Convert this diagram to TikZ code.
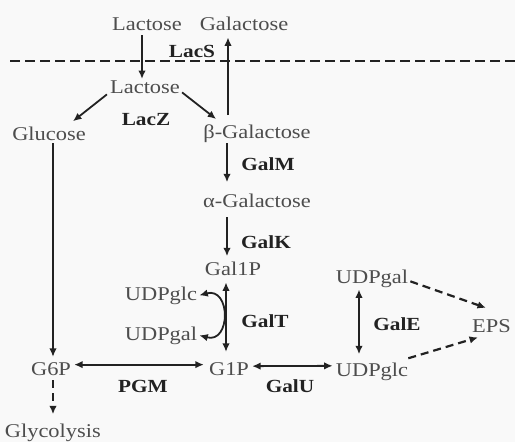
\documentclass[tikz,border=0pt]{standalone}
\usepackage{fontspec}
\setmainfont{Liberation Serif}[FakeStretch=1.15]
\usetikzlibrary{arrows.meta}
\definecolor{txt}{HTML}{4D4D4D}
\definecolor{ink}{HTML}{222222}
\definecolor{bg}{HTML}{F9F9F9}
\begin{document}
\begin{tikzpicture}[x=1pt,y=-1pt,
  met/.style={font=\fontsize{19.5}{22}\selectfont, text=txt, inner sep=1pt, anchor=base},
  enz/.style={font=\fontsize{18.5}{21}\selectfont\bfseries, text=ink, inner sep=1pt, anchor=base},
  tip/.tip={Latex[length=8.5pt,width=7.5pt]},
  rx/.style={draw=ink, line width=1.8pt, -tip},
  rxx/.style={draw=ink, line width=1.8pt, tip-tip},
  dsh/.style={draw=ink, line width=2.2pt, -tip, dash pattern=on 8pt off 5pt}]
\useasboundingbox (0,0) rectangle (515,442);
\fill[bg] (0,0) rectangle (515,442);
% membrane
\coordinate (memL) at (10,61);
\coordinate (memR) at (515,61);
\draw[ink, line width=2.4pt, dash pattern=on 10pt off 5pt] (memL) -- (memR);
% metabolites
\node[met] (lac0) at (147,30) {Lactose};
\node[met] (gal0) at (244,30) {Galactose};
\node[met] (lac1) at (145,93) {Lactose};
\node[met] (glc) at (49,140) {Glucose};
\node[met] (bgal) at (257,138) {β-Galactose};
\node[met] (agal) at (257,207) {α-Galactose};
\node[met] (gal1p) at (233,275) {Gal1P};
\node[met] (udpglcL) at (161,300) {UDPglc};
\node[met] (udpgalL) at (161,340) {UDPgal};
\node[met] (udpgalR) at (372,283) {UDPgal};
\node[met] (udpglcR) at (372,376) {UDPglc};
\node[met, anchor=base west] (eps) at (471,332) {EPS};
\node[met] (g6p) at (51,375) {G6P};
\node[met] (g1p) at (229,375) {G1P};
\node[met, anchor=base east] (glyc) at (102,437) {Glycolysis};
% enzymes
\node[enz] (lacs) at (192,57) {LacS};
\node[enz] (lacz) at (146,125) {LacZ};
\node[enz] (galm) at (268,170) {GalM};
\node[enz] (galk) at (266,248) {GalK};
\node[enz] (galt) at (265,327) {GalT};
\node[enz] (gale) at (397,330) {GalE};
\node[enz] (pgm) at (143,392) {PGM};
\node[enz] (galu) at (290,392) {GalU};
% reactions
\draw[rx] ([xshift=-5pt,yshift=-4pt]lac0.south) -- ([xshift=-3pt]lac1.north);
\draw[rx] ([xshift=-29pt,yshift=8pt]bgal.north) -- ([xshift=-16pt,yshift=-6pt]gal0.south);
\draw[rx] ([xshift=-2pt]lac1.south west) -- ([xshift=-14pt,yshift=4pt]glc.north east);
\draw[rx] ([xshift=1pt,yshift=2pt]lac1.south east) -- ([xshift=14pt,yshift=4pt]bgal.north west);
\draw[rx] ([xshift=-30pt]bgal.south) -- ([xshift=-30pt,yshift=10pt]agal.north);
\draw[rx] ([xshift=-30pt,yshift=-9pt]agal.south) -- ([xshift=-6pt,yshift=4pt]gal1p.north);
\draw[rxx] ([xshift=-7pt,yshift=-6pt]gal1p.south) -- ([xshift=-3pt,yshift=9pt]g1p.north);
\draw[rxx] ([xshift=1pt]udpglcL.east) to[out=15,in=-15,looseness=2.1] ([xshift=1pt]udpgalL.east);
\draw[rxx] ([xshift=-13pt,yshift=-1pt]udpgalR.south) -- ([xshift=-13pt,yshift=7pt]udpglcR.north);
\draw[dsh] ([xshift=1pt,yshift=-3pt]udpgalR.east) -- ([xshift=15pt,yshift=10pt]eps.north west);
\draw[dsh] ([xshift=-1pt,yshift=3pt]udpglcR.north east) -- ([xshift=7pt,yshift=-4pt]eps.south west);
\draw[rx] ([xshift=4pt,yshift=-2pt]glc.south) -- ([xshift=2pt,yshift=4pt]g6p.north);
\draw[rxx] ([xshift=2pt,yshift=4pt]g6p.east) -- ([xshift=-4pt,yshift=4pt]g1p.west);
\draw[rxx] ([xshift=2pt,yshift=2.5pt]g1p.east) -- ([xshift=-2pt,yshift=5.5pt]udpglcR.west);
\draw[dsh, shorten <=4pt, shorten >=8pt] ([xshift=2pt]g6p.south) -- ([xshift=2pt]g6p.south |- glyc.north);
\end{tikzpicture}
\end{document}
